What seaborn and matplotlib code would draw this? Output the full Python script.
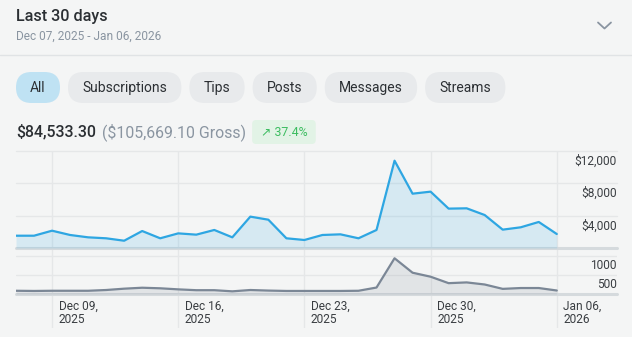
import numpy as np
import pandas as pd
import matplotlib
matplotlib.use("Agg")
import matplotlib.pyplot as plt
import matplotlib.transforms as mtransforms
from matplotlib.patches import FancyBboxPatch
from matplotlib.lines import Line2D
import seaborn as sns

# ---------------- data ----------------
days = pd.date_range("2025-12-07", "2026-01-06", freq="D")
earnings = [1520, 1520, 2140, 1610, 1320, 1200, 900, 2100, 1200, 1810, 1650,
            2230, 1320, 3880, 3500, 1200, 990, 1610, 1690, 1200, 2230, 10800,
            6720, 6970, 4870, 4910, 4080, 2270, 2560, 3220, 1730]
counts = [85, 80, 85, 85, 85, 105, 140, 165, 150, 122, 100, 100, 70, 105, 90,
          80, 80, 80, 80, 85, 170, 940, 560, 455, 285, 305, 250, 135, 157, 157, 92]
earn_ticks = [4000, 8000, 12000]
earn_tick_labels = ["$4,000", "$8,000", "$12,000"]
count_ticks = [500, 1000]
count_tick_labels = ["500", "1000"]
x_tick_dates = ["2025-12-09", "2025-12-16", "2025-12-23", "2025-12-30", "2026-01-06"]
x_tick_labels = ["Dec 09,\n2025", "Dec 16,\n2025", "Dec 23,\n2025",
                 "Dec 30,\n2025", "Jan 06,\n2026"]
tabs = ["All", "Subscriptions", "Tips", "Posts", "Messages", "Streams"]
title = "Last 30 days"
subtitle = "Dec 07, 2025 - Jan 06, 2026"
net_total = "$84,533.30"
gross_total = "($105,669.10 Gross)"
change = "\u2197 37.4%"

# ---------------- style ----------------
BG = "#f4f5f5"
BLUE = "#2ea6e2"
GRAYLINE = "#7b8796"
GRID = "#e5e7e8"
BASE = "#d5dadd"
DARK = "#2b2f33"
MUTED = "#8a95a1"
LABEL = "#3a3e42"

sns.set_theme(style="white")
plt.rcParams["font.family"] = ["Roboto", "DejaVu Sans"]

W, H = 632, 337
fig = plt.figure(figsize=(W / 100, H / 100), dpi=100)
fig.patch.set_facecolor(BG)


def rect(x0, y0, x1, y1):
    return [x0 / W, 1 - y1 / H, (x1 - x0) / W, (y1 - y0) / H]


def fy(y):
    return 1 - y / H


idx = np.asarray((days - days[0]).days)
xmax = 30 + 60.3 / 18.05
tick_idx = np.asarray((pd.to_datetime(x_tick_dates) - days[0]).days)

# ---------------- header ----------------
fig.text(16 / W, fy(16), title, fontsize=11.6, fontweight="medium", color=DARK,
         ha="left", va="center")
fig.text(16 / W, fy(36), subtitle, fontsize=8.6, color=MUTED, ha="left", va="center")
fig.add_artist(Line2D([598 / W, 604.5 / W, 611 / W], [fy(22.5), fy(28.5), fy(22.5)],
                      color=MUTED, lw=1.3, transform=fig.transFigure))
fig.add_artist(Line2D([0, 1], [fy(55), fy(55)], color="#e0e3e5", lw=1,
                      transform=fig.transFigure))

renderer = fig.canvas.get_renderer()
inch = fig.dpi_scale_trans

# tabs
x = 16
for i, t in enumerate(tabs):
    txt = fig.text(0, 0, t, fontsize=10.0, color=DARK, ha="center", va="center")
    w = txt.get_window_extent(renderer).width
    pw = w + 28.5
    face = "#bfe2f3" if i == 0 else "#e8eaec"
    fig.add_artist(FancyBboxPatch((x / 100, (H - 103) / 100), pw / 100, 31 / 100,
                                  boxstyle="round,pad=0,rounding_size=0.155",
                                  transform=inch, fc=face, ec="none"))
    txt.set_position(((x + pw / 2) / W, fy(88)))
    txt.set_zorder(3)
    x += pw + 8

# totals line
t1 = fig.text(16 / W, fy(132), net_total, fontsize=11.4, fontweight="medium",
              color=DARK, ha="left", va="center")
w1 = t1.get_window_extent(renderer).width
t2 = fig.text((16 + w1 + 6) / W, fy(132), gross_total, fontsize=11.4, color=MUTED,
              ha="left", va="center")
w2 = t2.get_window_extent(renderer).width
bx = 16 + w1 + 6 + w2 + 6
t3 = fig.text(0, 0, change, fontsize=8.9, color="#3dbd61", ha="center", va="center",
              family=["Roboto", "DejaVu Sans"])
w3 = t3.get_window_extent(renderer).width
bw = w3 + 17
fig.add_artist(FancyBboxPatch((bx / 100, (H - 144) / 100), bw / 100, 24 / 100,
                              boxstyle="round,pad=0,rounding_size=0.04",
                              transform=inch, fc="#e2f3e6", ec="none"))
t3.set_position(((bx + bw / 2) / W, fy(132)))
t3.set_zorder(3)

# ---------------- background grid axes ----------------
ax_bg = fig.add_axes(rect(16, 151, 617, 328), zorder=0)
ax_bg.set_facecolor("none")
ax_bg.axis("off")
ax_bg.set_xlim(0, xmax)
ax_bg.set_ylim(328, 151)
for tx, lab in zip(tick_idx, x_tick_labels):
    ax_bg.axvline(tx, color=GRID, lw=1)
    tr = mtransforms.offset_copy(ax_bg.transData, fig=fig, x=6.5, y=0, units="dots")
    ax_bg.text(tx, 300, lab, transform=tr, ha="left", va="top", fontsize=8.6,
               color=LABEL, linespacing=1.0)

# ---------------- earnings axes ----------------
ax1 = fig.add_axes(rect(16, 151, 617, 248), zorder=1)
ax1.set_facecolor("none")
ax1.set_xlim(0, xmax)
ax1.set_ylim(0, 12000)
for t in earn_ticks:
    ax1.axhline(t, color=GRID, lw=1, zorder=1, clip_on=False)
ax1.axhline(0, color=BASE, lw=2.2, zorder=1, clip_on=False)
ax1.fill_between(idx, earnings, 0, color=BLUE, alpha=0.15, lw=0, zorder=2)
sns.lineplot(x=idx, y=earnings, ax=ax1, color=BLUE, lw=1.6, zorder=3)
ax1.axis("off")
tr1 = mtransforms.offset_copy(ax1.get_yaxis_transform(), fig=fig, x=0, y=-10, units="dots")
for t, lab in zip(earn_ticks, earn_tick_labels):
    ax1.text(1.0, t, lab, transform=tr1, ha="right", va="center", fontsize=8.6, color=LABEL)

# ---------------- count axes ----------------
ax2 = fig.add_axes(rect(16, 248, 617, 294), zorder=1)
ax2.set_facecolor("none")
ax2.set_xlim(0, xmax)
ax2.set_ylim(0, 1000 * 46 / 38)
for t in count_ticks:
    ax2.axhline(t, color=GRID, lw=1, zorder=1)
ax2.axhline(0, color=BASE, lw=2.2, zorder=1, clip_on=False)
ax2.fill_between(idx, counts, 0, color=GRAYLINE, alpha=0.15, lw=0, zorder=2)
sns.lineplot(x=idx, y=counts, ax=ax2, color=GRAYLINE, lw=1.6, zorder=3)
ax2.axis("off")
tr2 = mtransforms.offset_copy(ax2.get_yaxis_transform(), fig=fig, x=0, y=-9.5, units="dots")
for t, lab in zip(count_ticks, count_tick_labels):
    ax2.text(1.0, t, lab, transform=tr2, ha="right", va="center", fontsize=8.6, color=LABEL)

fig.savefig("out.png", dpi=100, facecolor=BG)
